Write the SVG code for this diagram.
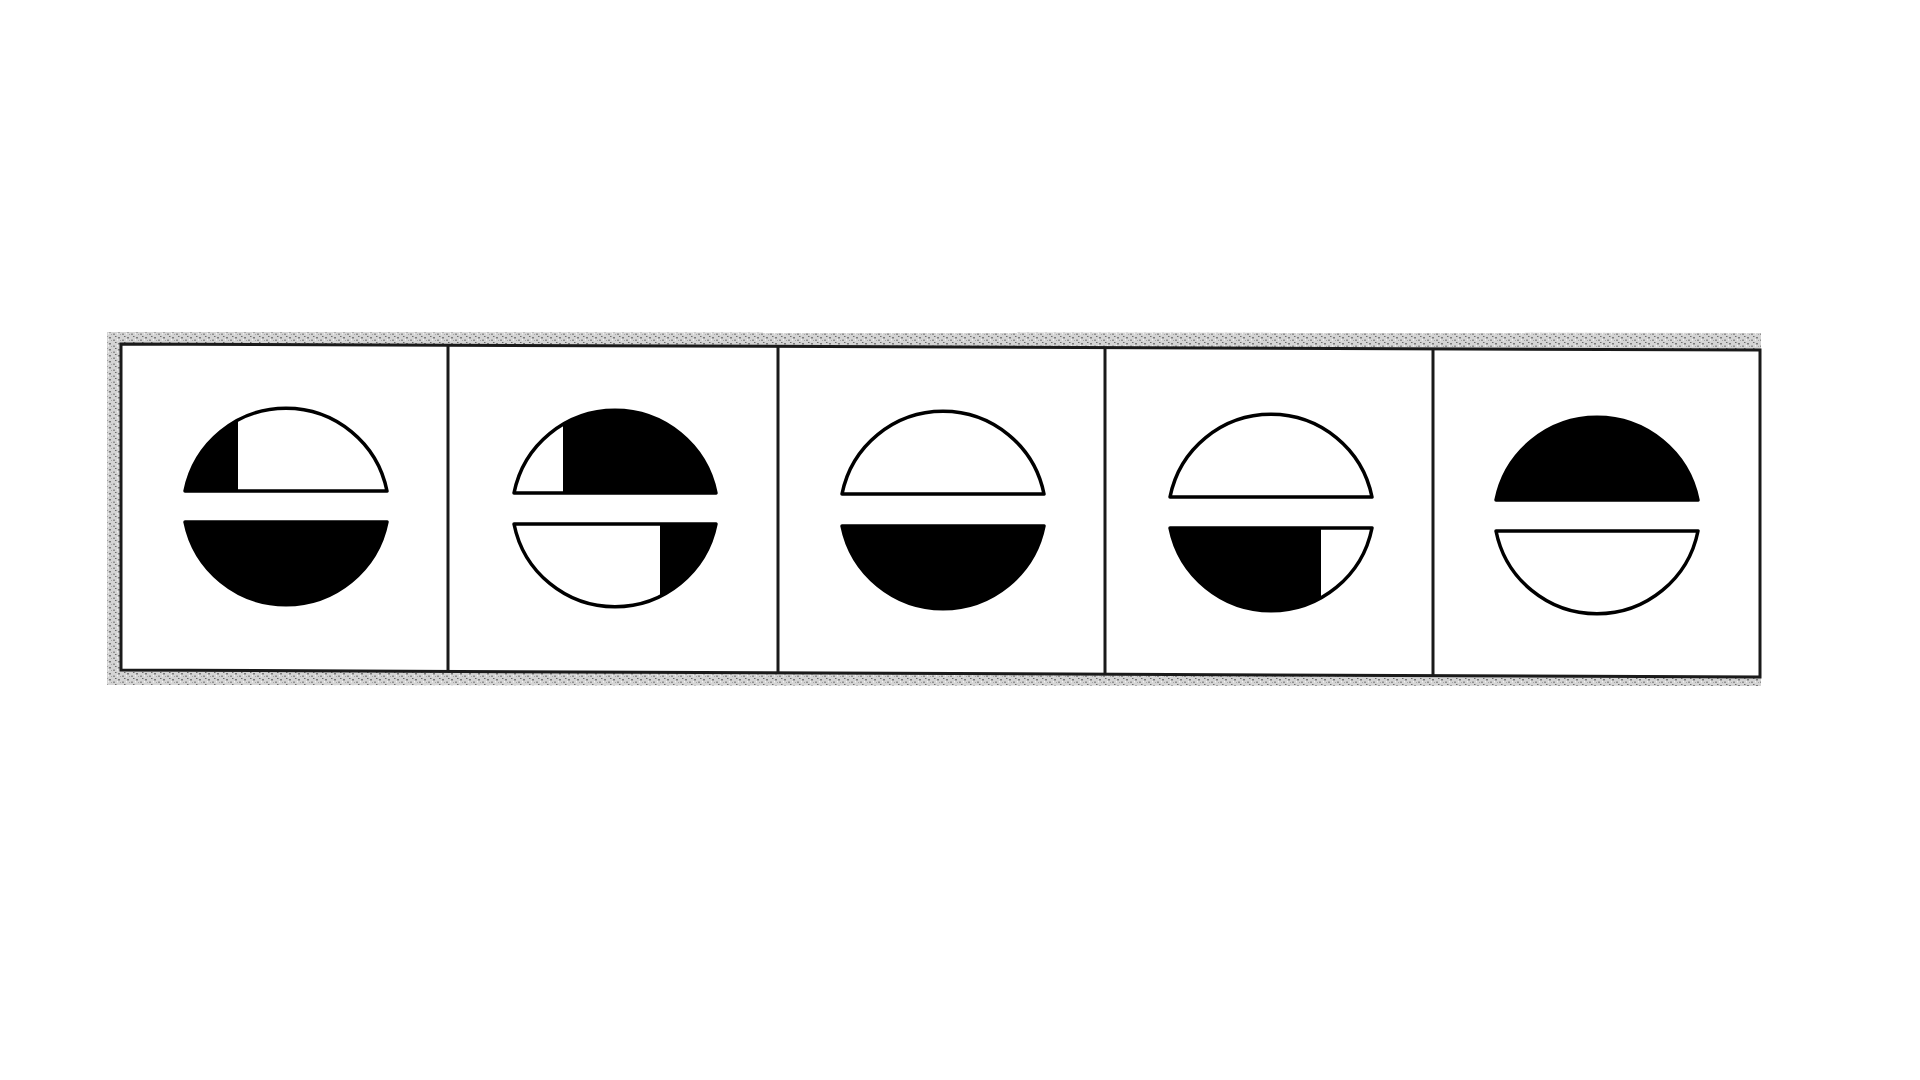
<svg xmlns="http://www.w3.org/2000/svg" width="1920" height="1080" viewBox="0 0 1920 1080">
<style>
.frame{fill:#fff;stroke:#1a1a1a;stroke-width:3}
.div{stroke:#1a1a1a;stroke-width:3}
.w{fill:#fff}
.b{fill:#000}
.edge{fill:none;stroke:#000;stroke-width:3.5;stroke-linejoin:round}
</style>
<defs>
<path id="top" d="M-101,0 A103,103 0 0 1 101,0 Z"/>
<path id="bot" d="M-101,0 A103,103 0 0 0 101,0 Z"/>
<clipPath id="cTop"><use href="#top"/></clipPath>
<clipPath id="cBot"><use href="#bot"/></clipPath>
<pattern id="speck" width="9" height="6" patternUnits="userSpaceOnUse">
<rect width="9" height="6" fill="#d4d4d4"/>
<rect x="1" y="1" width="2" height="1.5" fill="#7a7a7a"/>
<rect x="5" y="3.5" width="2" height="1.5" fill="#909090"/>
<rect x="7" y="0" width="1.5" height="1" fill="#6a6a6a"/>
<rect x="3" y="4" width="1" height="1" fill="#a5a5a5"/>
<rect x="0" y="3" width="1" height="1.5" fill="#f2f2f2"/>
</pattern>
</defs>
<rect width="1920" height="1080" fill="#fff"/>
<g id="frame">
<polygon points="107,332 1761,333 1761,686 107,685" fill="url(#speck)"/>
<polygon class="frame" points="121,344 1760,350 1760,677 121,670"/>
</g>
<g id="dividers">
<line class="div" x1="448" y1="345" x2="448" y2="671"/>
<line class="div" x1="778" y1="346" x2="778" y2="672"/>
<line class="div" x1="1105" y1="347" x2="1105" y2="674"/>
<line class="div" x1="1433" y1="348" x2="1433" y2="675"/>
</g>
<g id="panel-1">
<g transform="translate(286,491)">
<use href="#top" class="w"/>
<rect x="-101" y="-110" width="53" height="110" class="b" clip-path="url(#cTop)"/>
<use href="#top" class="edge"/>
</g>
<g transform="translate(286,522)">
<use href="#bot" class="b"/>
<use href="#bot" class="edge"/>
</g>
</g>
<g id="panel-2">
<g transform="translate(615,493)">
<use href="#top" class="w"/>
<rect x="-52" y="-110" width="160" height="110" class="b" clip-path="url(#cTop)"/>
<use href="#top" class="edge"/>
</g>
<g transform="translate(615,524)">
<use href="#bot" class="w"/>
<rect x="45" y="0" width="60" height="110" class="b" clip-path="url(#cBot)"/>
<use href="#bot" class="edge"/>
</g>
</g>
<g id="panel-3">
<g transform="translate(943,494)">
<use href="#top" class="w"/>
<use href="#top" class="edge"/>
</g>
<g transform="translate(943,526)">
<use href="#bot" class="b"/>
<use href="#bot" class="edge"/>
</g>
</g>
<g id="panel-4">
<g transform="translate(1271,497)">
<use href="#top" class="w"/>
<use href="#top" class="edge"/>
</g>
<g transform="translate(1271,528)">
<use href="#bot" class="w"/>
<rect x="-105" y="0" width="155" height="110" class="b" clip-path="url(#cBot)"/>
<use href="#bot" class="edge"/>
</g>
</g>
<g id="panel-5">
<g transform="translate(1597,500)">
<use href="#top" class="b"/>
<use href="#top" class="edge"/>
</g>
<g transform="translate(1597,531)">
<use href="#bot" class="w"/>
<use href="#bot" class="edge"/>
</g>
</g>
</svg>
